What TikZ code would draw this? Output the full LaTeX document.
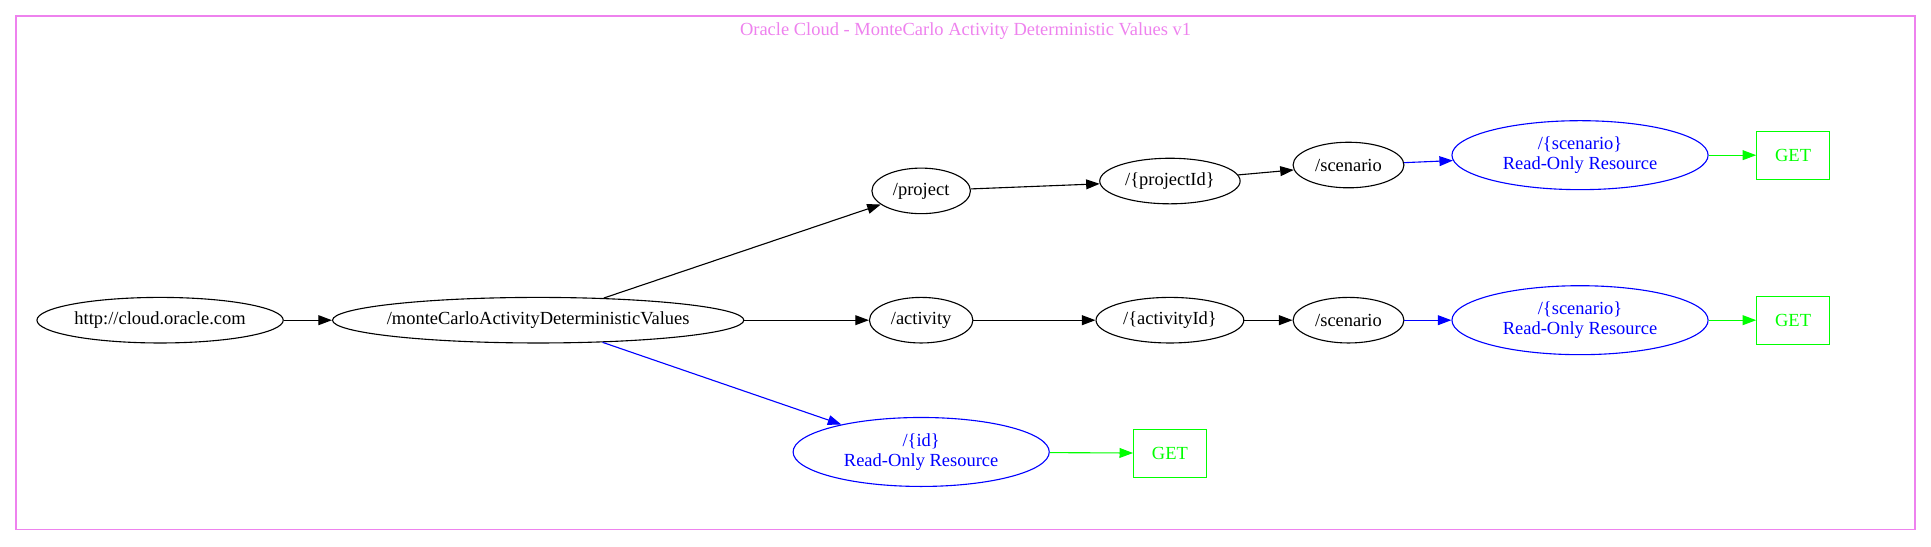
\documentclass[tikz,border=0pt]{standalone}
\usepackage{fontspec}
\setmainfont{Liberation Serif}
\usetikzlibrary{shapes.geometric,arrows.meta}
\definecolor{gvviolet}{HTML}{EE82EE}
\definecolor{gvblue}{HTML}{0000FF}
\definecolor{gvgreen}{HTML}{00FF00}

\begin{document}
\begin{tikzpicture}[x=1pt,y=-1pt,line width=0.9pt,
    font=\fontsize{15}{16}\selectfont,
    res/.style={draw,ellipse,inner xsep=-8pt,inner ysep=0pt,minimum height=37pt},
    ro/.style={draw=gvblue,text=gvblue,ellipse,inner sep=0pt,align=center,
      minimum height=56pt,minimum width=208pt},
    verb/.style={draw=gvgreen,text=gvgreen,rectangle,minimum width=59pt,minimum height=39pt},
    link/.style={-{Triangle[length=11pt,width=8pt]}}]
  \useasboundingbox (0,0) rectangle (1568,444);
  \draw[gvviolet] (13,13) rectangle (1555,430);
  \node[text=gvviolet] (title) at (784,25) {Oracle Cloud - MonteCarlo Activity Deterministic Values v1};

  \node[res,minimum width=200pt] (root) at (130,260) {http://cloud.oracle.com};
  \node[res,minimum width=334pt] (mcadv) at (437,260) {/monteCarloActivityDeterministicValues};
  \node[res,minimum width=80pt] (project) at (748,155) {/project};
  \node[res,minimum width=84pt] (activity) at (748,260) {/activity};
  \node[ro] (idres) at (748,367) {/\{id\}\\Read-Only Resource};
  \node[verb] (idget) at (950,368) {GET};
  \node[res,minimum width=114pt] (projectid) at (950,147) {/\{projectId\}};
  \node[res,minimum width=120pt] (activityid) at (950,260) {/\{activityId\}};
  \node[res,minimum width=90pt] (pscen) at (1095,134) {/scenario};
  \node[res,minimum width=90pt] (ascen) at (1095,260) {/scenario};
  \node[ro] (pscenres) at (1283,126) {/\{scenario\}\\Read-Only Resource};
  \node[ro] (ascenres) at (1283,260) {/\{scenario\}\\Read-Only Resource};
  \node[verb] (pscenget) at (1456,126) {GET};
  \node[verb] (ascenget) at (1456,260) {GET};

  \draw[link] (root) -- (mcadv);
  \draw[link] (mcadv) -- (project);
  \draw[link] (mcadv) -- (activity);
  \draw[link,gvblue] (mcadv) -- (idres);
  \draw[link,gvgreen] (idres) -- (idget);
  \draw[link] (project) -- (projectid);
  \draw[link] (projectid) -- (pscen);
  \draw[link,gvblue] (pscen) -- (pscenres);
  \draw[link,gvgreen] (pscenres) -- (pscenget);
  \draw[link] (activity) -- (activityid);
  \draw[link] (activityid) -- (ascen);
  \draw[link,gvblue] (ascen) -- (ascenres);
  \draw[link,gvgreen] (ascenres) -- (ascenget);
\end{tikzpicture}
\end{document}
